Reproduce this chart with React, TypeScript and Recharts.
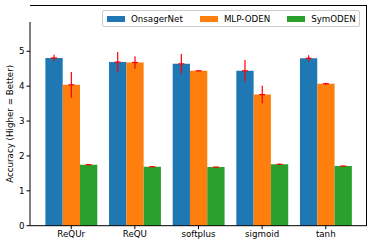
import { BarChart, Bar, XAxis, YAxis, ErrorBar, LabelList, Legend } from 'recharts';

const activations = ['ReQUr', 'ReQU', 'softplus', 'sigmoid', 'tanh'];
const onsagerNet = [4.81, 4.69, 4.64, 4.44, 4.8];
const onsagerErr = [0.09, 0.29, 0.28, 0.31, 0.09];
const mlpOden = [4.04, 4.68, 4.44, 3.76, 4.07];
const mlpErr = [0.37, 0.18, 0.01, 0.25, 0.03];
const symOden = [1.75, 1.69, 1.68, 1.76, 1.71];
const symErr = [0.02, 0.02, 0.01, 0.02, 0.01];
const yTicks = [0, 1, 2, 3, 4, 5];

const series = [
  { key: 'ons', name: 'OnsagerNet', color: '#1f77b4' },
  { key: 'mlp', name: 'MLP-ODEN', color: '#ff7f0e' },
  { key: 'sym', name: 'SymODEN', color: '#2ca02c' },
];

const data = activations.map((a, i) => ({
  act: a,
  ons: onsagerNet[i],
  onsErr: onsagerErr[i],
  mlp: mlpOden[i],
  mlpErr: mlpErr[i],
  sym: symOden[i],
  symErr: symErr[i],
}));

const font = '"DejaVu Sans", sans-serif';

// short horizontal red tick at the bar top, makes the "+" look
function MeanTick(props: any) {
  const { x, y, width } = props;
  const cx = x + width / 2;
  return <line x1={cx - 3} x2={cx + 3} y1={y} y2={y} stroke="#ff0000" strokeWidth={1.2} />;
}

function LegendBox() {
  return (
    <div
      style={{
        display: 'flex',
        alignItems: 'center',
        border: '1px solid #cccccc',
        borderRadius: 2,
        background: 'rgba(255,255,255,0.8)',
        height: 15,
        padding: '0 3px 0 4px',
        fontFamily: font,
        fontSize: 8.7,
        color: '#000',
      }}
    >
      {series.map((s, i) => (
        <div key={s.key} style={{ display: 'flex', alignItems: 'center', marginLeft: i === 0 ? 0 : 17 }}>
          <div style={{ width: 18, height: 6, background: s.color, marginRight: 6 }} />
          <span>{s.name}</span>
        </div>
      ))}
    </div>
  );
}

export default function App() {
  return (
    <div style={{ position: 'absolute', left: 0, top: 0, width: 374, height: 247, background: '#fff' }}>
      <BarChart
        width={374}
        height={247}
        data={data}
        margin={{ top: 5, right: 7, bottom: 0, left: 0 }}
        barGap={0}
        barSize={17.3}
      >
        <XAxis
          dataKey="act"
          padding={{ left: 9.4, right: 9.4 }}
          height={21.3}
          stroke="#000"
          tickSize={3.5}
          tick={{ fill: '#000', fontSize: 8.7, fontFamily: font }}
          interval={0}
        />
        <YAxis
          domain={[0, 5.84]}
          ticks={yTicks}
          width={30}
          stroke="#000"
          tickSize={3.5}
          tick={{ fill: '#000', fontSize: 8.7, fontFamily: font }}
          label={{
            value: 'Accuracy (Higher = Better)',
            angle: -90,
            position: 'insideLeft',
            offset: 0,
            dx: 10,
            style: { fontSize: 8.7, fontFamily: font, fill: '#000', textAnchor: 'middle' },
          }}
        />
        <Legend
          verticalAlign="top"
          align="left"
          content={() => <LegendBox />}
          wrapperStyle={{ top: 10, left: 102, width: 'auto' }}
        />
        {series.map((s) => (
          <Bar key={s.key} dataKey={s.key} name={s.name} fill={s.color} isAnimationActive={false}>
            <ErrorBar dataKey={s.key + 'Err'} width={0} stroke="#ff0000" strokeWidth={1.2} />
            <LabelList dataKey={s.key} content={MeanTick} />
          </Bar>
        ))}
      </BarChart>
      {/* top and right spines */}
      <div
        style={{
          position: 'absolute',
          left: 30,
          top: 5,
          width: 337,
          height: 220.7,
          borderTop: '1px solid #000',
          borderRight: '1px solid #000',
          boxSizing: 'border-box',
          pointerEvents: 'none',
        }}
      />
    </div>
  );
}
